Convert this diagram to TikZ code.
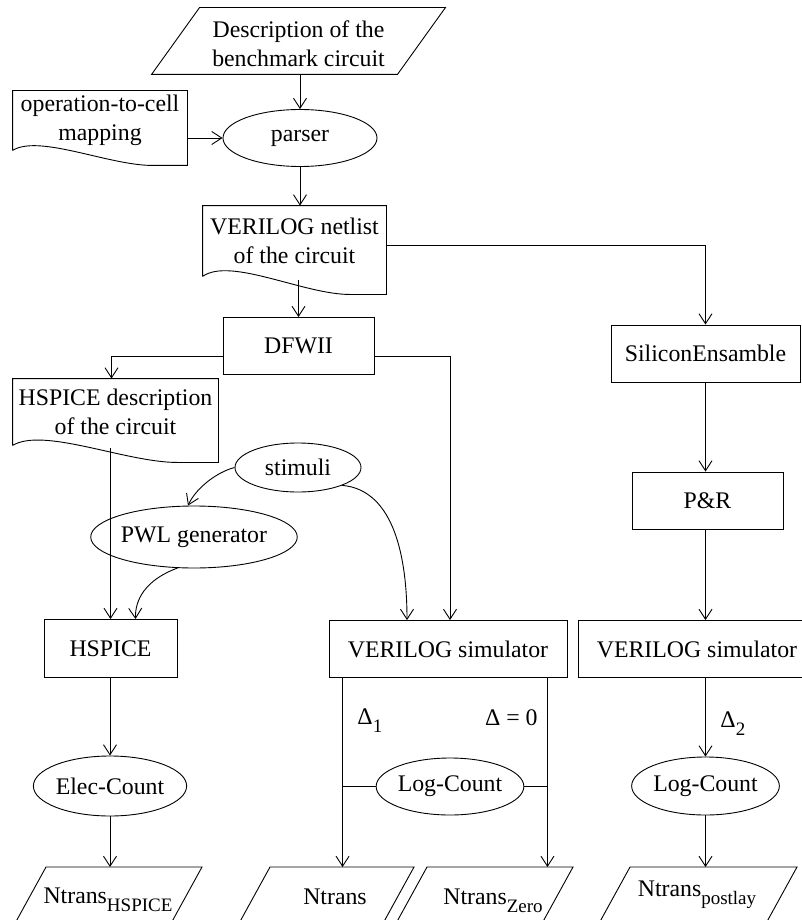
\documentclass[tikz,border=0pt]{standalone}
\usepackage{fontspec}
\setmainfont{Liberation Serif}
\usetikzlibrary{shapes.geometric,arrows.meta,calc}
\newcommand\lsub[1]{\raisebox{-8pt}{\fontsize{19}{19}\selectfont #1}}
% document shape: wavy bottom, right end lower by #2
\newcommand\docshape[2]{%
  \draw (#1.south west) -- (#1.north west) -- (#1.north east) -- ($(#1.south east)+(0,#2)$)
    -- ($(#1.south west)!0.8!(#1.south east)+(0,#2)$)
    .. controls ($(#1.south west)!0.55!(#1.south east)+(0,#2)$)
       and ($(#1.south west)!0.15!(#1.south east)+(0,-1.1*#2)$) .. (#1.south west);}
\begin{document}
\begin{tikzpicture}[x=1pt,y=-1pt,line width=0.9pt,line join=miter,
  every node/.style={font=\fontsize{23.8}{29}\selectfont,inner sep=0pt,align=center},
  box/.style={draw,rectangle},
  ell/.style={draw,ellipse},
  arr/.style={-{Straight Barb[length=10pt,width=13pt]}}]
\useasboundingbox (0,0) rectangle (802,920);
\clip (0,0) rectangle (802,920);

% top input
\node (desc) [minimum width=245pt,minimum height=60pt] at (298.5,44) {Description of the\\benchmark circuit};
\draw ($(desc.north west)+(24,-6)$) -- ($(desc.north east)+(24,-6)$) -- ($(desc.south east)+(-24,0)$) -- ($(desc.south west)+(-24,0)$) -- cycle;

\node[ell,minimum width=154pt,minimum height=57pt] (parser) at (300,138) {parser};
\node (map) [minimum width=174pt,minimum height=59pt] at (100,120.5) {operation-to-cell\\mapping};
\docshape{map}{15}

\node (net) [minimum width=183pt,minimum height=70pt] at (294.5,241) {VERILOG netlist\\of the circuit};
\docshape{net}{18}

\node[box,minimum width=151pt,minimum height=57pt] (dfw) at (298.5,346) {DFWII};
\node (hsd) [minimum width=205pt,minimum height=66pt] at (115.5,412) {HSPICE description\\of the circuit};
\docshape{hsd}{17}

\node[box,minimum width=189pt,minimum height=57pt] (sil) at (705.5,353.5) {SiliconEnsamble};
\node[box,minimum width=151pt,minimum height=57pt] (pr) at (707.5,500.5) {P\&R};

\node[ell,minimum width=126pt,minimum height=49pt] (sti) at (298,467.5) {stimuli};
\node[ell,minimum width=158pt,minimum height=62pt] (pwl) at (194,537) {PWL generator};

\node[box,minimum width=133pt,minimum height=58pt] (hsp) at (110.5,648.5) {HSPICE};
\node[box,minimum width=238pt,minimum height=57pt] (vs1) at (448,649) {VERILOG simulator};
\node[box,minimum width=238pt,minimum height=57pt] (vs2) at (697,649) {VERILOG simulator};

\node[ell,minimum width=129pt,minimum height=60pt] (elec) at (110,786) {Elec-Count};
\node[ell,minimum width=137pt,minimum height=57pt] (log1) at (450,786.5) {Log-Count};
\node[ell,minimum width=132pt,minimum height=58pt] (log2) at (705.5,786) {Log-Count};

\node[anchor=base west] (l1) at (357,724) {Δ\lsub{1}};
\node[anchor=base east] (l0) at (538,725) {Δ = 0};
\node[anchor=base west] (l2) at (720,727) {Δ\lsub{2}};

% bottom outputs
\node[anchor=base] (ntH) at (108,903) {Ntrans\lsub{HSPICE}};
\node[anchor=base] (ntr) at (335,904) {Ntrans};
\node[anchor=base] (ntZ) at (493,904) {Ntrans\lsub{Zero}};
\node[anchor=base] (ntP) at (697,896) {Ntrans\lsub{postlay}};
\coordinate (bot) at (0,867);
\draw (2,947) -- (46,867) -- (202,867) -- (158,947);
\draw (226,947) -- (270,867) -- (414,867) -- (370,947);
\draw (383,947) -- (427,867) -- (573,867) -- (529,947);
\draw (586,947) -- (630,867) -- (797,867) -- (753,947);

% connectors
\draw[arr] (parser.north |- desc.south) -- (parser.north);
\draw[arr] (map.east |- parser.west) -- (parser.west);
\draw[arr] (parser.south) -- (parser.south |- net.north);
\draw[arr] ($(dfw.north |- net.south)+(0,4)$) -- (dfw.north);
\draw[arr] ($(net.east)+(0,4)$) -| (sil.north);
\draw[arr] ($(dfw.west)+(0,10)$) -| ($(hsd.north)+(-4,0)$);
\draw[arr] ($(dfw.east)+(0,10)$) -| ($(vs1.north)+(2,0)$);
\draw[arr] (sil.south) -- (sil.south |- pr.north);
\draw[arr] (sil.south |- pr.south) -- (sil.south |- vs2.north);

\coordinate (hsdb) at ($(hsd.south)+(-5,3)$);
\draw[arr] (hsdb) -- (hsdb |- hsp.north);
\draw[arr] (sti.west) .. controls (217,472) and (196,488) .. ($(pwl.north)+(-6,0)$);
\draw[arr] (sti.-22) .. controls (395,490) and (407,560) .. ($(vs1.north)+(-41,0)$);
\draw[arr] (pwl.-118) .. controls (145,580) and (135,600) .. ($(hsp.north)+(25,0)$);

\draw[arr] (hsp.south -| elec.north) -- (elec.north);
\draw[arr] (elec.south) -- (elec.south |- bot);

\coordinate (d1) at ($(vs1.south west)+(14,0)$);
\coordinate (d0) at ($(vs1.south east)+(-20,0)$);
\draw[arr] (d1) -- (d1 |- bot);
\draw[arr] (d0) -- (d0 |- bot);
\draw (d1 |- log1.west) -- (log1.west);
\draw (log1.east) -- (log1.east -| d0);

\draw[arr] (sil.south |- vs2.south) -- (log2.north);
\draw[arr] (log2.south) -- (log2.south |- bot);
\end{tikzpicture}
\end{document}
